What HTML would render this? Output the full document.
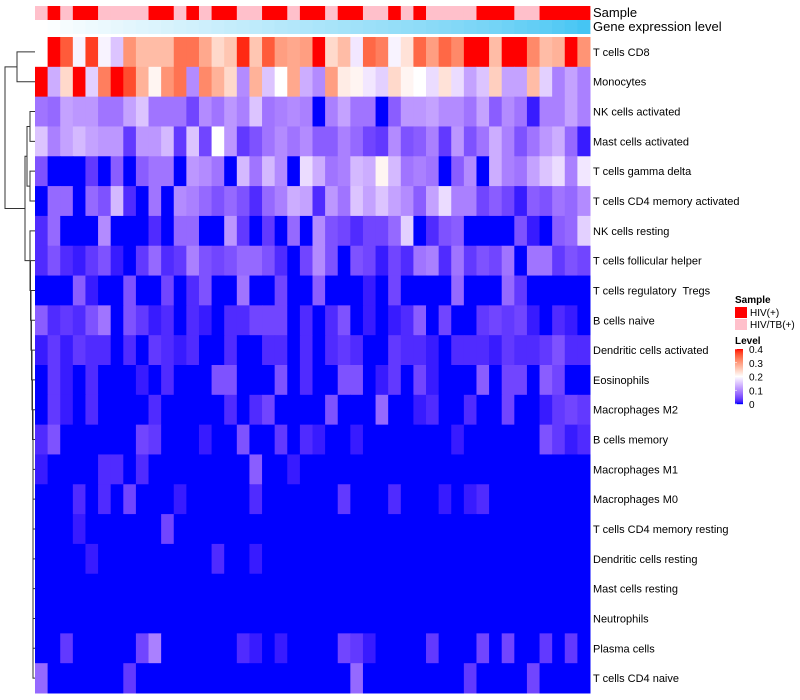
<!DOCTYPE html>
<html><head><meta charset="utf-8">
<style>
html,body{margin:0;padding:0;background:#fff;}
svg{display:block;font-family:"Liberation Sans",sans-serif;}
#labels text{white-space:pre;}
</style></head>
<body>
<svg id="chart" width="800" height="700" viewBox="0 0 800 700">
  <g id="dendro" stroke="#333" stroke-width="1" fill="none"></g>
  <g id="cells"></g>
  <g id="annos"></g>
  <g id="labels" font-size="11" fill="#000"></g>
  <text x="593" y="17" font-size="13">Sample</text>
  <text x="593" y="31" font-size="13">Gene expression level</text>
  <g id="legend"></g>
</svg>
<script>
const rowNames = ["T cells CD8","Monocytes","NK cells activated","Mast cells activated","T cells gamma delta","T cells CD4 memory activated","NK cells resting","T cells follicular helper","T cells regulatory  Tregs","B cells naive","Dendritic cells activated","Eosinophils","Macrophages M2","B cells memory","Macrophages M1","Macrophages M0","T cells CD4 memory resting","Dendritic cells resting","Mast cells resting","Neutrophils","Plasma cells","T cells CD4 naive"];
// sample group per column: 1 = HIV(+), 0 = HIV/TB(+)
const sampleGroup = [0,1,0,1,1,0,0,0,0,1,1,0,1,0,1,1,0,0,1,1,0,1,1,0,1,1,0,0,1,0,1,0,0,0,0,1,1,1,0,0,1,1,1,1];
const geneLevel = [0.00,0.02,0.05,0.07,0.09,0.11,0.13,0.15,0.17,0.19,0.21,0.23,0.25,0.27,0.29,0.31,0.33,0.35,0.37,0.39,0.41,0.43,0.45,0.47,0.49,0.51,0.53,0.55,0.57,0.59,0.61,0.63,0.65,0.67,0.70,0.72,0.75,0.78,0.81,0.84,0.87,0.91,0.95,1.00];
// values in hundredths (0..40 => 0..0.4)
const rCD8 = [20,40,36,19,38,19,15,31,27,27,27,34,34,29,24,26,39,26,36,30,29,30,40,24,27,18,35,33,19,23,35,30,35,32,40,40,27,40,40,32,27,28,40,31];
const rMono = [40,13,24,40,16,33,40,37,28,21,31,34,10,32,28,24,10,28,15,20,29,13,10,30,22,21,18,16,24,21,20,17,23,17,12,15,25,12,12,27,16,9,12,9];
const rNKact = [8,7,12,11,11,8,8,12,15,8,8,8,4,10,8,11,9,15,8,9,10,9,0,9,12,8,8,0,6,11,11,12,10,10,8,12,6,10,8,1,9,9,12,9];
const rMastAct = [15,9,12,14,12,11,11,3,11,11,14,3,15,4,20,11,3,5,8,10,8,10,6,6,9,7,4,3,10,5,6,9,3,11,5,8,13,9,5,8,11,13,7,1];
const rGamma = [5,0,0,0,3,0,6,0,6,8,8,0,11,10,8,0,14,8,14,10,0,17,13,8,9,14,13,21,14,8,9,8,0,6,10,0,13,9,8,12,15,17,9,18];
const rCD4act = [0,7,7,0,7,5,14,2,0,8,0,10,9,7,5,7,5,2,7,9,13,12,2,11,8,15,12,15,12,10,6,12,17,9,9,4,6,4,1,6,5,8,7,10];
const rNKrest = [2,7,0,0,0,10,0,0,0,2,0,7,7,0,0,11,3,0,3,0,7,0,10,5,4,2,4,4,7,16,0,2,5,6,0,0,0,0,5,1,0,6,7,16];
const rTfh = [2,5,2,1,3,5,1,0,3,7,2,3,9,5,4,5,7,7,5,2,0,4,10,5,0,5,4,1,4,2,8,9,2,8,3,5,4,8,0,8,8,3,5,4];
const rTreg = [0,0,0,6,1,0,0,5,0,0,4,0,2,5,0,0,8,0,0,4,0,0,6,0,0,0,1,0,4,0,0,0,0,7,0,0,0,7,3,0,0,0,0,0];
const rBnaive = [6,2,3,2,5,8,0,5,3,1,2,0,2,1,0,2,2,4,4,4,0,2,0,2,5,0,1,0,1,2,6,0,4,0,0,3,4,3,4,1,0,2,1,0];
const rDCact = [1,3,1,3,2,2,0,2,0,3,2,1,2,0,0,2,0,0,2,2,0,2,0,2,3,2,0,0,3,2,2,1,0,2,2,2,1,3,2,2,3,5,2,2];
const rEos = [0,3,1,0,2,0,0,0,1,0,2,0,0,0,5,5,0,0,0,5,0,2,0,0,5,5,0,1,3,0,4,1,0,0,0,6,0,4,4,0,6,4,0,0];
const rM2 = [0,3,1,0,2,0,0,0,0,2,0,0,0,0,0,2,0,2,4,0,0,0,0,5,0,0,0,7,0,0,1,2,0,0,2,0,0,4,0,0,1,3,4,3];
const rBmem = [2,5,0,0,0,0,0,0,4,3,0,0,0,1,0,0,5,0,0,3,0,2,1,0,0,1,0,0,0,0,0,0,0,1,0,0,0,0,0,0,5,3,1,2];
const rM1 = [1,0,0,0,0,2,2,0,2,0,0,0,0,0,0,0,0,6,0,0,1,0,0,0,0,0,0,0,0,0,0,0,0,0,0,0,0,0,0,0,0,0,0,0];
const rM0 = [0,0,0,2,0,2,0,4,0,0,0,1,0,0,0,0,0,2,0,0,0,0,0,0,3,0,0,0,2,0,0,0,1,0,1,2,0,0,0,0,0,0,0,0];
const rCD4rest = [0,0,0,1,0,0,0,0,0,0,4,0,0,0,0,0,0,0,0,0,0,0,0,0,0,0,0,0,0,0,0,0,0,0,0,0,0,0,0,0,0,0,0,0];
const rDCrest = [0,0,0,0,1,0,0,0,0,0,0,0,0,0,2,0,0,1,0,0,0,0,0,0,0,0,0,0,0,0,0,0,0,0,0,0,0,0,0,0,0,0,0,0];
const rMastRest = [0,0,0,0,0,0,0,0,0,0,0,0,0,0,0,0,0,0,0,0,0,0,0,0,0,0,0,0,0,0,0,0,0,0,0,0,0,0,0,0,0,0,0,0];
const rNeut = [0,0,0,0,0,0,0,0,0,0,0,0,0,0,0,0,0,0,0,0,0,0,0,0,0,0,0,0,0,0,0,0,0,0,0,0,0,0,0,0,0,0,0,0];
const rPlasma = [0,0,3,0,0,0,0,0,4,9,0,0,0,0,0,0,2,1,0,1,0,0,0,0,4,3,1,0,0,0,0,3,0,0,0,4,0,4,0,0,3,0,3,0];
const rCD4naive = [7,0,0,0,0,0,0,3,0,0,0,0,0,0,0,0,0,0,0,0,0,0,0,0,0,7,0,0,0,0,0,0,0,0,3,0,0,0,0,4,0,0,0,0];
const matrix = [rCD8,rMono,rNKact,rMastAct,rGamma,rCD4act,rNKrest,rTfh,rTreg,rBnaive,rDCact,rEos,rM2,rBmem,rM1,rM0,rCD4rest,rDCrest,rMastRest,rNeut,rPlasma,rCD4naive];
const legendTicks = [0,0.1,0.2,0.3,0.4];

const NS = "http://www.w3.org/2000/svg";
const X0 = 35, X1 = 590, Y0 = 37, Y1 = 693;
const nCol = sampleGroup.length, nRow = rowNames.length;
const cw = (X1 - X0) / nCol, ch = (Y1 - Y0) / nRow;
const xCol = i => X0 + i * cw;
const yRow = j => Y0 + j * ch;

function mk(tag, attrs, parent){const e=document.createElementNS(NS,tag);for(const k in attrs)e.setAttribute(k,attrs[k]);parent.appendChild(e);return e;}
function toLin(c){c/=255;return c<=0.04045?c/12.92:Math.pow((c+0.055)/1.055,2.4);}
function fromLin(c){c=c<=0.0031308?12.92*c:1.055*Math.pow(c,1/2.4)-0.055;return Math.max(0,Math.min(255,Math.round(c*255)));}
function rgb2lab(r,g,b){r=toLin(r);g=toLin(g);b=toLin(b);
 let x=(r*0.4124+g*0.3576+b*0.1805)/0.95047,y=(r*0.2126+g*0.7152+b*0.0722),z=(r*0.0193+g*0.1192+b*0.9505)/1.08883;
 const f=t=>t>0.008856?Math.cbrt(t):7.787*t+16/116;x=f(x);y=f(y);z=f(z);return [116*y-16,500*(x-y),200*(y-z)];}
function lab2rgb(L,a,b){let y=(L+16)/116,x=a/500+y,z=y-b/200;const fi=t=>t*t*t>0.008856?t*t*t:(t-16/116)/7.787;
 x=fi(x)*0.95047;y=fi(y);z=fi(z)*1.08883;
 const r=x*3.2406+y*-1.5372+z*-0.4986,g=x*-0.9689+y*1.8758+z*0.0415,bb=x*0.0557+y*-0.2040+z*1.0570;
 return `rgb(${fromLin(r)},${fromLin(g)},${fromLin(bb)})`;}
const labBlue=rgb2lab(0,0,255),labWhite=rgb2lab(255,255,255),labRed=rgb2lab(255,0,0);
function colorOf(v){v=Math.max(0,Math.min(0.4,v));let A,B,t;
 if(v<=0.2){A=labBlue;B=labWhite;t=v/0.2;}else{A=labWhite;B=labRed;t=(v-0.2)/0.2;}
 return lab2rgb(A[0]+(B[0]-A[0])*t,A[1]+(B[1]-A[1])*t,A[2]+(B[2]-A[2])*t);}
function geneColor(t){const r=Math.round(255+(69-255)*t),g=Math.round(255+(197-255)*t),b=Math.round(255+(243-255)*t);return `rgb(${r},${g},${b})`;}

const cells=document.getElementById('cells');
matrix.forEach((row,j)=>{row.forEach((n,i)=>{
  const r=mk('rect',{x:xCol(i).toFixed(2),y:yRow(j).toFixed(2),width:(cw+0.5).toFixed(2),height:(ch+0.5).toFixed(2),fill:colorOf(n/100)},cells);
  
  
});});

const annos=document.getElementById('annos');
sampleGroup.forEach((g,i)=>{
  const r=mk('rect',{x:xCol(i).toFixed(2),y:6,width:(cw+0.4).toFixed(2),height:14,fill:g?'#FF0000':'#FFC0CB'},annos);
  
  
});
geneLevel.forEach((t,i)=>{
  const r=mk('rect',{x:xCol(i).toFixed(2),y:20,width:(cw+0.4).toFixed(2),height:14,fill:geneColor(t)},annos);
  
  
});

const labels=document.getElementById('labels');
rowNames.forEach((nm,j)=>{
  const t=mk('text',{x:593,y:(yRow(j)+ch/2+4).toFixed(1)},labels);
  t.setAttribute('xml:space','preserve');
  t.textContent=nm;
  
  
});

const dg=document.getElementById('dendro');
const yc=j=>yRow(j)+ch/2;
function link(xm,ya,yb,xa,xb){
  const p=mk('path',{d:`M${xa},${ya}H${xm}V${yb}H${xb}`},dg);
  
  
}
link(17,yc(0),yc(1),35,35);
link(30,yc(2),yc(3),35,35);
link(30,yc(4),yc(5),35,35);
const yA=(yc(2)+yc(3))/2, yB=(yc(4)+yc(5))/2;
link(27,yA,yB,30,30);
let prevY, prevX;
link(33,yc(20),yc(21),35,35); prevY=(yc(20)+yc(21))/2; prevX=33;
const chainX=[34,34,34,34,33.5,33.5,33,33,32.5,32,31.5,31,30.5,30];
for(let j=19;j>=6;j--){
  const xm=chainX[19-j];
  link(Math.min(xm,prevX),yc(j),prevY,35,prevX);
  prevY=(yc(j)+prevY)/2; prevX=Math.min(xm,prevX);
}
const yLow=prevY, yUp=(yA+yB)/2;
link(25,yUp,yLow,27,prevX);
const yRest=(yUp+yLow)/2, yTop=(yc(0)+yc(1))/2;
link(5,yTop,yRest,17,25);

const lg=document.getElementById('legend');
function txt(x,y,s,size,bold,name){const t=mk('text',{x:x,y:y,'font-size':size},lg);if(bold)t.setAttribute('font-weight','bold');t.textContent=s;return t;}
txt(735,303,'Sample',10,true,'sample-legend-title');
let r1=mk('rect',{x:735,y:307,width:12,height:11,fill:'#FF0000'},lg);


let r2=mk('rect',{x:735,y:319,width:12,height:11,fill:'#FFC0CB'},lg);


txt(750,316,'HIV(+)',10,false,'legend-entry-hiv');
txt(750,328,'HIV/TB(+)',10,false,'legend-entry-hiv-tb');
txt(735,344,'Level',10,true,'level-legend-title');
const cbTop=349, cbBot=404;
for(let k=0;k<55;k++){
  const v=0.4*(1-k/54);
  const s=mk('rect',{x:735,y:cbTop+k,width:8,height:1.2,fill:colorOf(v)},lg);
  
  
}
legendTicks.forEach(v=>{
  const y=cbBot-(v/0.4)*(cbBot-cbTop);
  const tk=mk('line',{x1:735,x2:737,y1:y,y2:y,stroke:'#fff','stroke-width':0.6},lg);
  
  
  txt(749,y+4,String(v),10,false,'colorbar-tick-label');
});
</script>
</body></html>
